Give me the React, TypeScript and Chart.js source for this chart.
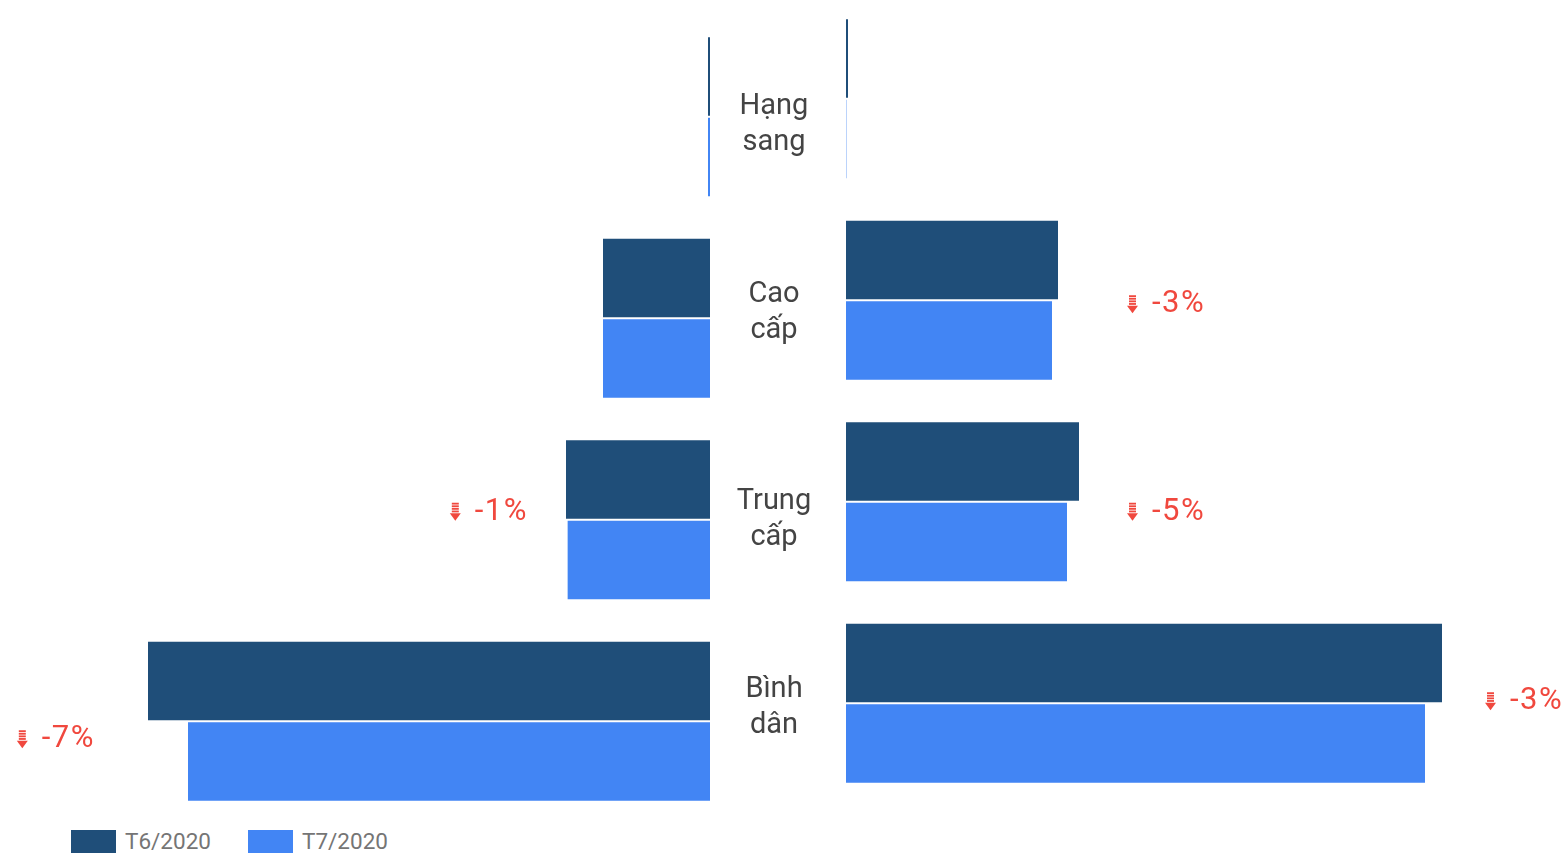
import React, { useEffect, useRef } from "react";
import { Chart, registerables } from "chart.js";

Chart.register(...registerables);

const categories = ["Hạng sang", "Cao cấp", "Trung cấp", "Bình dân"];
const seriesNames = ["T6/2020", "T7/2020"];

// Left panel values
const leftT6 = [10, 535, 720, 2810];
const leftT7 = [10, 535, 713, 2610];
const leftChange = ["", "", "-1%", "-7%"];

// Right panel values
const rightT6 = [10, 1060, 1165, 2980];
const rightT7 = [3, 1030, 1105, 2895];
const rightChange = ["", "-3%", "-5%", "-3%"];

const LEFT_MAX = 3550;
const RIGHT_MAX = 3595;

const DARK = "#1f4e79";
const LIGHT = "#4285f4";
const RED = "#f0483e";

function drawArrow(ctx: CanvasRenderingContext2D, ax: number, cy: number) {
  ctx.fillStyle = RED;
  for (let i = 0; i < 4; i++) {
    ctx.fillRect(ax + 2, cy - 9 + i * 2.6, 7, 1.8);
  }
  ctx.beginPath();
  ctx.moveTo(ax, cy + 1.5);
  ctx.lineTo(ax + 11, cy + 1.5);
  ctx.lineTo(ax + 5.5, cy + 9);
  ctx.closePath();
  ctx.fill();
}

const changePlugin = {
  id: "changeLabels",
  afterDatasetsDraw(chart: any, _args: any, opts: any) {
    const { ctx, chartArea } = chart;
    const labels: string[] = opts.labels || [];
    const side: string = opts.side;
    const dy: number[] = opts.dy || [];
    const dx: number[] = opts.dx || [];
    const m0 = chart.getDatasetMeta(0);
    const m1 = chart.getDatasetMeta(1);
    ctx.save();
    ctx.font = "31px Roboto";
    (ctx as any).letterSpacing = "1.5px";
    ctx.textBaseline = "middle";
    labels.forEach((txt, i) => {
      if (!txt) return;
      const cy = chart.scales.y.getPixelForValue(i) + (dy[i] || 0) + 4;
      const x0 = m0.data[i].x;
      const x1 = m1.data[i].x;
      if (side === "right") {
        const end = Math.max(x0, x1);
        const ax = Math.max(end + 43, chartArea.left + 281) + (dx[i] || 0);
        drawArrow(ctx, ax, cy);
        ctx.fillStyle = RED;
        ctx.textAlign = "left";
        ctx.fillText(txt, ax + 25, cy);
      } else {
        const end = Math.min(x0, x1);
        const right = Math.min(end - 40, chartArea.right - 182) + (dx[i] || 0);
        ctx.fillStyle = RED;
        ctx.textAlign = "right";
        ctx.fillText(txt, right, cy);
        const w = ctx.measureText(txt).width;
        drawArrow(ctx, right - w - 25, cy);
      }
    });
    ctx.restore();
  },
};

function makeConfig(
  a: number[],
  b: number[],
  max: number,
  reverse: boolean,
  labels: string[],
  side: string,
  dy: number[],
  dx: number[]
) {
  const common = {
    borderColor: "#ffffff",
    borderWidth: { top: 1, bottom: 1, left: 0, right: 0 },
    categoryPercentage: 0.8,
    barPercentage: 1.0,
  };
  return {
    type: "bar" as const,
    data: {
      labels: categories,
      datasets: [
        { label: seriesNames[0], data: a, backgroundColor: DARK, ...common },
        { label: seriesNames[1], data: b, backgroundColor: LIGHT, ...common },
      ],
    },
    options: {
      indexAxis: "y" as const,
      animation: false as const,
      responsive: false,
      devicePixelRatio: 1,
      layout: { padding: 0 },
      plugins: {
        legend: { display: false },
        tooltip: { enabled: false },
        changeLabels: { labels, side, dy, dx },
      },
      scales: {
        x: { display: false, min: 0, max, reverse, grid: { display: false } },
        y: { display: false, grid: { display: false } },
      },
    },
    plugins: [changePlugin],
  };
}

const catLabelCenters = [122, 310, 517, 705];

export default function App() {
  const leftRef = useRef<HTMLCanvasElement>(null);
  const rightRef = useRef<HTMLCanvasElement>(null);

  useEffect(() => {
    const lc = new Chart(
      leftRef.current as HTMLCanvasElement,
      makeConfig(leftT6, leftT7, LEFT_MAX, true, leftChange, "left", [0, 0, -12, 14], [0, 0, 2, -13]) as any
    );
    const rc = new Chart(
      rightRef.current as HTMLCanvasElement,
      makeConfig(rightT6, rightT7, RIGHT_MAX, false, rightChange, "right", [0, 0, 6, -6], [0, 0, 0, 0]) as any
    );
    return () => {
      lc.destroy();
      rc.destroy();
    };
  }, []);

  return (
    <div
      style={{
        position: "absolute",
        left: 0,
        top: 0,
        width: 1565,
        height: 854,
        overflow: "hidden",
        background: "#ffffff",
        fontFamily: "Roboto, sans-serif",
      }}
    >
      <canvas ref={leftRef} width={710} height={806} style={{ position: "absolute", left: 0, top: 16, width: 710, height: 806 }} />
      <canvas ref={rightRef} width={719} height={806} style={{ position: "absolute", left: 846, top: -2, width: 719, height: 806 }} />
      {categories.map((c, i) => {
        const words = c.split(" ");
        return (
          <div
            key={c}
            style={{
              position: "absolute",
              left: 704,
              width: 140,
              top: catLabelCenters[i] - 36,
              height: 72,
              textAlign: "center",
              fontSize: 29,
              lineHeight: "36px",
              color: "#444444",
            }}
          >
            {words.map((w) => (
              <div key={w}>{w}</div>
            ))}
          </div>
        );
      })}
      {seriesNames.map((s, i) => (
        <div
          key={s}
          style={{
            position: "absolute",
            left: i === 0 ? 71 : 248,
            top: 830,
            height: 23,
            display: "flex",
            alignItems: "center",
          }}
        >
          <div style={{ width: 45, height: 23, background: i === 0 ? DARK : LIGHT }} />
          <div style={{ marginLeft: 9, fontSize: 22.5, color: "#757575", lineHeight: "23px" }}>{s}</div>
        </div>
      ))}
    </div>
  );
}
